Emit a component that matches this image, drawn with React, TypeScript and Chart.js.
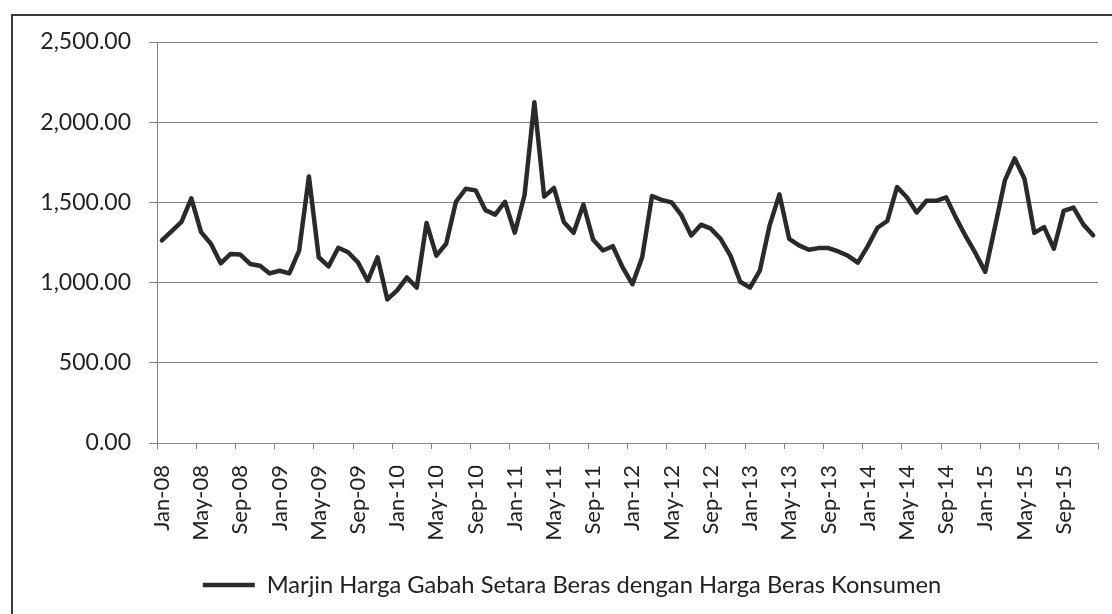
import React, { useEffect, useRef } from 'react';
import { Chart, registerables } from 'chart.js';

Chart.register(...registerables);

const MONTHS = ['Jan', 'Feb', 'Mar', 'Apr', 'May', 'Jun', 'Jul', 'Aug', 'Sep', 'Oct', 'Nov', 'Dec'];
const YEARS = ['08', '09', '10', '11', '12', '13', '14', '15'];

const Y2008 = [1263, 1321, 1378, 1525, 1315, 1242, 1120, 1179, 1175, 1116, 1105, 1057];
const Y2009 = [1074, 1057, 1200, 1662, 1158, 1101, 1217, 1189, 1126, 1011, 1158, 895];
const Y2010 = [952, 1032, 969, 1372, 1168, 1242, 1504, 1585, 1575, 1452, 1424, 1504];
const Y2011 = [1311, 1546, 2124, 1536, 1590, 1378, 1311, 1487, 1267, 1200, 1227, 1095];
const Y2012 = [990, 1158, 1540, 1515, 1500, 1420, 1294, 1361, 1336, 1273, 1168, 1005];
const Y2013 = [969, 1074, 1357, 1550, 1272, 1232, 1205, 1215, 1215, 1194, 1167, 1124];
const Y2014 = [1226, 1342, 1384, 1595, 1532, 1437, 1510, 1510, 1532, 1405, 1289, 1183];
const Y2015 = [1067, 1350, 1637, 1774, 1648, 1310, 1346, 1211, 1447, 1468, 1363, 1295];

const SERIES_LABEL = 'Marjin Harga Gabah Setara Beras dengan Harga Beras Konsumen';
const Y_MIN = 0;
const Y_MAX = 2500;
const Y_STEP = 500;
const LABEL_EVERY = 4;

const CATEGORIES = YEARS.flatMap((y) => MONTHS.map((m) => `${m}-${y}`));
const VALUES = [...Y2008, ...Y2009, ...Y2010, ...Y2011, ...Y2012, ...Y2013, ...Y2014, ...Y2015];

const GRID = '#858585';
const TEXT = '#222222';
const LINE = '#2a2a2a';
const FONT = 'Lato';

const CANVAS_W = 1144;
const CANVAS_H = 614;

export default function App() {
  const canvasRef = useRef<HTMLCanvasElement | null>(null);

  useEffect(() => {
    const canvas = canvasRef.current;
    if (!canvas) return;
    const chart = new Chart(canvas, {
      type: 'line',
      data: {
        labels: CATEGORIES,
        datasets: [
          {
            label: SERIES_LABEL,
            data: VALUES,
            borderColor: LINE,
            backgroundColor: LINE,
            borderWidth: 4.5,
            pointRadius: 0,
            pointHoverRadius: 0,
            tension: 0,
            fill: false,
            borderJoinStyle: 'round',
            borderCapStyle: 'round',
            yAxisID: 'y',
          },
        ],
      },
      options: {
        responsive: false,
        animation: false,
        devicePixelRatio: 1,
        layout: { padding: { top: 42, left: 0, right: 0, bottom: 7.2 } },
        plugins: {
          tooltip: { enabled: false },
          legend: {
            display: true,
            position: 'bottom',
            labels: {
              usePointStyle: true,
              pointStyle: 'line',
              pointStyleWidth: 52,
              padding: 6,
              color: TEXT,
              font: { family: FONT, size: 23.7 },
            },
          },
        },
        scales: {
          x: {
            type: 'category',
            offset: true,
            afterFit: (scale: any) => {
              scale.height = 124.1;
            },
            grid: {
              display: true,
              offset: true,
              drawOnChartArea: false,
              drawTicks: true,
              tickLength: 6,
              lineWidth: 1,
              color: (ctx: any) =>
                ctx.type !== 'tick' || ctx.index % LABEL_EVERY === 0 ? GRID : 'rgba(0,0,0,0)',
            },
            border: { display: true, color: GRID, width: 1 },
            ticks: {
              autoSkip: false,
              minRotation: 90,
              maxRotation: 90,
              padding: 16,
              color: TEXT,
              font: { family: FONT, size: 22 },
              callback: (_v: any, i: number) => (i % LABEL_EVERY === 0 ? CATEGORIES[i] : ''),
            },
          },
          y: {
            position: 'left',
            min: Y_MIN,
            max: Y_MAX,
            afterFit: (scale: any) => {
              scale.width = 157;
            },
            grid: {
              color: GRID,
              lineWidth: 1,
              tickLength: 8,
              drawTicks: true,
            },
            border: { display: true, color: GRID, width: 1 },
            ticks: {
              stepSize: Y_STEP,
              padding: 18,
              color: TEXT,
              font: { family: FONT, size: 23 },
              callback: (v: any) =>
                Number(v).toLocaleString('en-US', { minimumFractionDigits: 2, maximumFractionDigits: 2 }),
            },
          },
          spacer: {
            type: 'linear',
            position: 'right',
            display: true,
            afterFit: (scale: any) => {
              scale.width = 46;
            },
            grid: { display: false, drawTicks: false },
            border: { display: false },
            ticks: { display: false },
          },
        },
      },
    });
    return () => chart.destroy();
  }, []);

  return (
    <div
      style={{
        position: 'fixed',
        left: 0,
        top: 0,
        width: 1112,
        height: 614,
        background: '#ffffff',
        overflow: 'hidden',
      }}
    >
      <div
        style={{
          position: 'absolute',
          left: 11,
          top: 14,
          width: 1200,
          height: 700,
          borderLeft: '2px solid #3a3a3a',
          borderTop: '2px solid #3a3a3a',
          boxSizing: 'border-box',
        }}
      />
      <canvas
        ref={canvasRef}
        width={CANVAS_W}
        height={CANVAS_H}
        style={{ position: 'absolute', left: 0, top: 0, width: CANVAS_W, height: CANVAS_H }}
      />
    </div>
  );
}
